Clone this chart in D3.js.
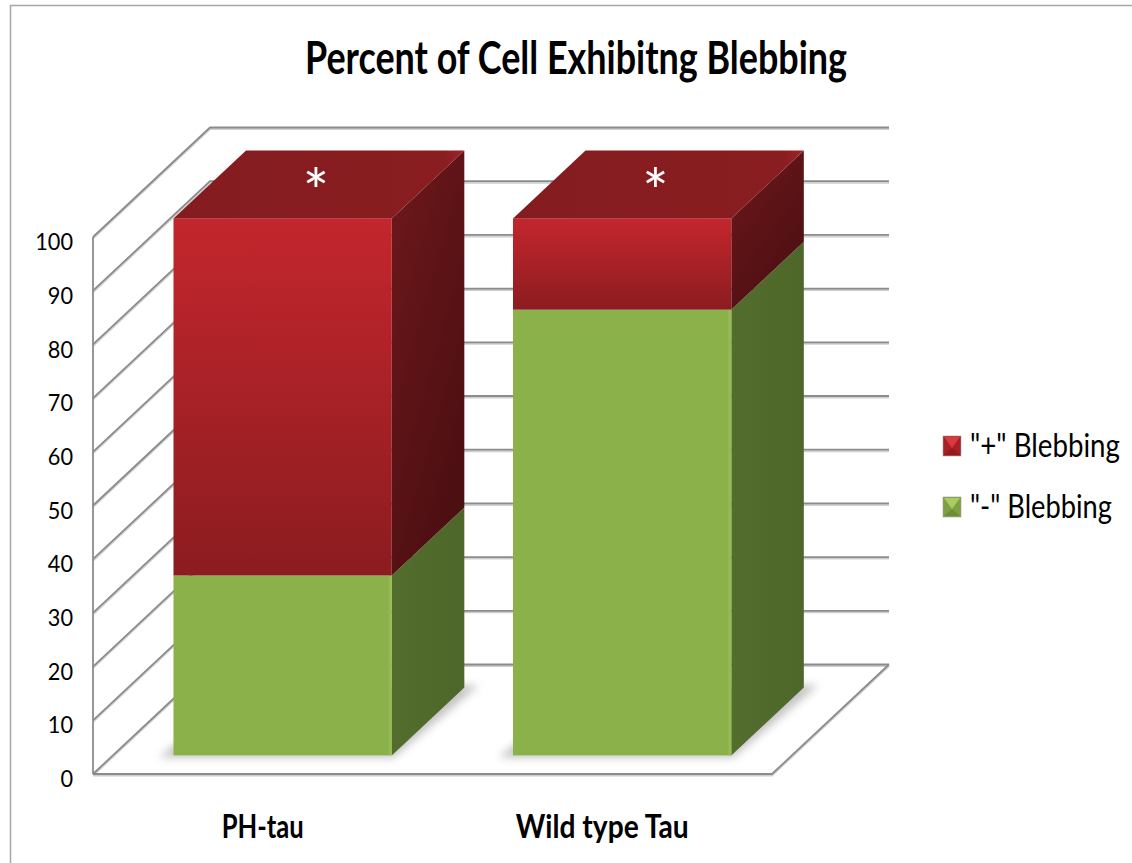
<!DOCTYPE html>
<html>
<head>
<meta charset="utf-8">
<script src="https://cdn.jsdelivr.net/npm/d3@7"></script>
<style>
  html, body { margin: 0; padding: 0; background: #ffffff; }
  svg { display: block; }
</style>
</head>
<body>
<svg id="chart" width="1132" height="863"></svg>
<script>
// Chart data
const title = "Percent of Cell Exhibitng Blebbing";
const categories = ["PH-tau", "Wild type Tau"];
const seriesNames = ['"-" Blebbing', '"+" Blebbing'];
const negBlebbing = [33.5, 83];   // "-" Blebbing (bottom segment)
const posBlebbing = [66.5, 17];   // "+" Blebbing (top segment)
const markers = ["*", "*"];
const yTicks = [0, 10, 20, 30, 40, 50, 60, 70, 80, 90, 100];

const svg = d3.select("#chart");
const W = 1132, H = 863;
const FONT = "Lato, 'Open Sans', sans-serif";

// 3D frame: front plane scales plus a depth vector toward the back wall
const y = d3.scaleLinear().domain([0, 100]).range([774, 237]);
const x = d3.scaleBand().domain(categories).range([93, 772])
  .paddingInner(0.357).paddingOuter(0.1785);
const depth = { dx: 117, dy: -109.5 };
const barD0 = 0.17, barD1 = 0.79;
const proj = (px, v, d) => [px + depth.dx * d, y(v) + depth.dy * d];
const poly = pts => "M" + pts.map(p => p.join(",")).join("L") + "Z";

const defs = svg.append("defs");
const vGrad = (id, stops, x2 = 0, y2 = 1) => {
  const g = defs.append("linearGradient").attr("id", id)
    .attr("x1", 0).attr("y1", 0).attr("x2", x2).attr("y2", y2);
  stops.forEach(([o, c]) => g.append("stop").attr("offset", o).attr("stop-color", c));
};
vGrad("redFront", [[0, "#c4262d"], [1, "#8b1c20"]]);
vGrad("redSide", [[0, "#6e181b"], [1, "#4c0f12"]], 0.6, 1);
vGrad("redTop", [[0, "#841c1f"], [0.93, "#891d20"], [1, "#a02427"]], 1, 0);
vGrad("greenSide", [[0, "#536d2d"], [1, "#4d672a"]], 1, 0);
defs.append("filter").attr("id", "soft").attr("x", "-30%").attr("y", "-30%")
  .attr("width", "160%").attr("height", "160%")
  .append("feGaussianBlur").attr("stdDeviation", 4);

// Outer chart border
svg.append("rect").attr("x", 10.5).attr("y", 5.5).attr("width", W + 40).attr("height", H + 40)
  .attr("fill", "#ffffff").attr("stroke", "#a6a6a6").attr("stroke-width", 1.5);

// Title
svg.append("text").attr("x", 576).attr("y", 74).attr("text-anchor", "middle")
  .attr("font-family", FONT).attr("font-weight", 700)
  .attr("font-size", 45).attr("textLength", 542).attr("lengthAdjust", "spacingAndGlyphs")
  .attr("fill", "#000").text(title);

// Walls and floor grid
const grid = svg.append("g").attr("fill", "none").attr("stroke-linejoin", "miter");
const xL = 93, xR = 772;
const wallPath = v => {
  const a = proj(xL, v, 0), b = proj(xL, v, 1), c = proj(xR, v, 1);
  return "M" + [a, b, c].map(p => p.join(",")).join("L");
};
// soft underline beneath each grid line
grid.selectAll("path.shadow").data(yTicks).join("path").attr("class", "shadow")
  .attr("d", wallPath).attr("transform", "translate(0,1.5)")
  .attr("stroke", "#cfcfcf").attr("stroke-width", 2);
grid.selectAll("path.line").data(yTicks).join("path").attr("class", "line")
  .attr("d", wallPath).attr("stroke", "#8c8c8c").attr("stroke-width", 1.8);
// left wall front edge
grid.append("line").attr("x1", xL).attr("x2", xL).attr("y1", y(100)).attr("y2", y(0))
  .attr("stroke", "#8c8c8c").attr("stroke-width", 1.8);
// floor front and right edges
const f0 = proj(xL, 0, 0), f1 = proj(xR, 0, 0), f2 = proj(xR, 0, 1);
grid.append("path").attr("d", "M" + [f0, f1, f2].map(p => p.join(",")).join("L"))
  .attr("transform", "translate(0,1.5)").attr("stroke", "#cfcfcf").attr("stroke-width", 2);
grid.append("path").attr("d", "M" + [f0, f1, f2].map(p => p.join(",")).join("L"))
  .attr("stroke", "#8c8c8c").attr("stroke-width", 1.8);

// Y axis labels
const yAxis = d3.axisLeft(y).tickValues(yTicks).tickSize(0).tickPadding(20);
const ag = svg.append("g").attr("transform", `translate(${xL},0)`).call(yAxis);
ag.select(".domain").remove();
ag.selectAll("text").attr("font-family", FONT)
  .attr("font-size", 23).attr("fill", "#000").attr("dy", "0.55em")
  .attr("textLength", d => String(d).length * 12.6).attr("lengthAdjust", "spacingAndGlyphs");

// Stacked data
const stacked = d3.stack().keys([0, 1])(categories.map((c, i) => ({ 0: negBlebbing[i], 1: posBlebbing[i], cat: c })));
const faces = [
  { front: "#8bb14b", side: "url(#greenSide)", top: "#6f8f3a" },
  { front: "url(#redFront)", side: "url(#redSide)", top: "url(#redTop)" }
];

const bars = svg.append("g");
categories.forEach((cat, i) => {
  const x0 = x(cat), x1 = x(cat) + x.bandwidth();
  const g = bars.append("g");
  // floor shadow around the bar base
  g.append("path").attr("d", poly([
    proj(x0 - 12, 0, barD0 - 0.02), proj(x1 + 4, 0, barD0 - 0.02),
    proj(x1 + 12, 0, barD1 + 0.02), proj(x0, 0, barD1 + 0.02)
  ])).attr("fill", "#7a7a7a").attr("opacity", 0.45).attr("filter", "url(#soft)");

  stacked.forEach((s, k) => {
    const v0 = s[i][0], v1 = s[i][1];
    const st = faces[k];
    // right side face
    g.append("path").attr("d", poly([
      proj(x1, v0, barD0), proj(x1, v0, barD1), proj(x1, v1, barD1), proj(x1, v1, barD0)
    ])).attr("fill", st.side);
    // front face
    const a = proj(x0, v1, barD0), b = proj(x1, v0, barD0);
    g.append("rect").attr("x", a[0]).attr("y", a[1])
      .attr("width", b[0] - a[0]).attr("height", b[1] - a[1]).attr("fill", st.front);
    if (k === 0) {
      // light edge along the front-right corner of the green face
      g.append("rect").attr("x", b[0] - 3).attr("y", a[1]).attr("width", 3)
        .attr("height", b[1] - a[1]).attr("fill", "#9cc05a").attr("opacity", 0.6);
    }
    if (k === stacked.length - 1) {
      // top face
      g.append("path").attr("d", poly([
        proj(x0, v1, barD0), proj(x1, v1, barD0), proj(x1, v1, barD1), proj(x0, v1, barD1)
      ])).attr("fill", st.top);
      // significance marker on top face
      const c = proj((x0 + x1) / 2, v1, (barD0 + barD1) / 2);
      g.append("text").attr("x", c[0] - 3).attr("y", c[1] + 30).attr("text-anchor", "middle")
        .attr("font-family", FONT).attr("font-size", 62)
        .attr("fill", "#ffffff").text(markers[i]);
    }
  });
});

// Category labels on the front plane
svg.append("g").selectAll("text").data(categories).join("text")
  .attr("x", d => x(d) + x.bandwidth() / 2).attr("y", 838).attr("text-anchor", "middle")
  .attr("font-family", FONT).attr("font-weight", 700)
  .attr("font-size", 32).attr("fill", "#000")
  .attr("textLength", (d, i) => [82, 173][i]).attr("lengthAdjust", "spacingAndGlyphs")
  .text(d => d);

// Legend (top series listed first)
const legendItems = [
  { name: seriesNames[1], base: "#a81f25", light: "#d9393f", dark: "#7d1518", width: 150 },
  { name: seriesNames[0], base: "#7f9f40", light: "#a9cc62", dark: "#5f7f2c", width: 142 }
];
const lg = svg.append("g").selectAll("g").data(legendItems).join("g")
  .attr("transform", (d, i) => `translate(943,${436 + i * 61})`);
lg.append("rect").attr("width", 18).attr("height", 20).attr("fill", d => d.base)
  .attr("stroke", "#a0a0a0").attr("stroke-width", 0.6);
lg.append("path").attr("d", "M1,1L17,1L9,12Z").attr("fill", d => d.light);
lg.append("path").attr("d", "M1,19L17,19L9,12Z").attr("fill", d => d.dark).attr("opacity", 0.5);
// legend labels: condensed horizontally to a fixed width
lg.append("text")
  .attr("font-family", FONT).attr("font-size", 32).attr("fill", "#000")
  .text(d => d.name)
  .each(function (d) {
    const natural = this.getComputedTextLength();
    const sx = Math.min(1, d.width / natural);
    d3.select(this).attr("transform", `translate(27,21) scale(${sx},1)`);
  });
</script>
</body>
</html>
